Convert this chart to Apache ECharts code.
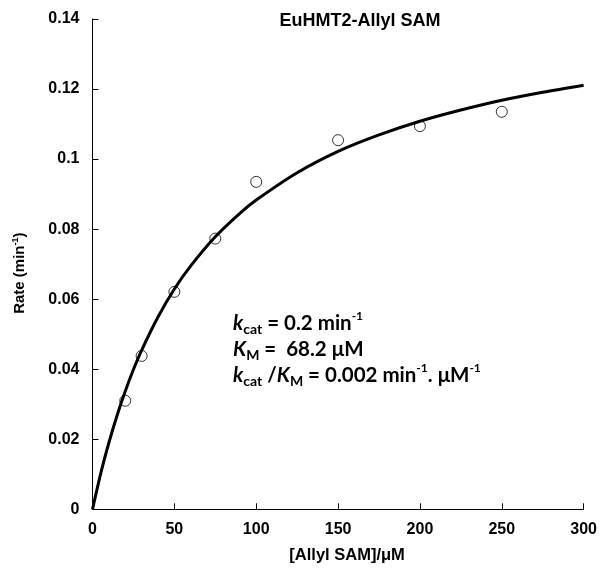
<!DOCTYPE html>
<html>
<head>
<meta charset="utf-8">
<script src="https://cdn.jsdelivr.net/npm/echarts@6/dist/echarts.min.js"></script>
<style>html,body{margin:0;padding:0;background:#fff}#c{width:600px;height:573px}</style>
</head>
<body>
<div id="c"></div>
<script>
// Measured data points
const substrate = [20, 30, 50, 75, 100, 150, 200, 250];
const rates = [0.0310, 0.0438, 0.0621, 0.0773, 0.0935, 0.1054, 0.1094, 0.1135];
// Fitted curve
const curveX = [0, 5, 10, 15, 20, 25, 30, 40, 50, 60, 75, 90, 100, 125, 150, 175, 200, 225, 250, 275, 300];
const curveY = [0, 0.0102, 0.0190, 0.0268, 0.0337, 0.0399, 0.0454, 0.0549, 0.0629, 0.0695, 0.0778, 0.0845, 0.0883, 0.0961, 0.1022, 0.1069, 0.1108, 0.1140, 0.1168, 0.1191, 0.1211];
const xTicks = [0, 50, 100, 150, 200, 250, 300];
const yTicks = [0, 0.02, 0.04, 0.06, 0.08, 0.1, 0.12, 0.14];

const AR = "'Liberation Sans', Arial, sans-serif";
const CAL = "Lato, 'Open Sans', sans-serif";

const chart = echarts.init(document.getElementById('c'), null, {renderer: 'canvas'});

const mainSt = {fontFamily: CAL, fontWeight: 'bold', fontSize: 20.5, color: '#000', lineHeight: 26};
const rich = {
  k: Object.assign({}, mainSt, {fontStyle: 'italic'}),
  t: mainSt,
  sub: {fontFamily: CAL, fontWeight: 'bold', fontSize: 14, color: '#000', lineHeight: 14, verticalAlign: 'bottom'},
  sup: {fontFamily: CAL, fontWeight: 'bold', fontSize: 12, color: '#000', lineHeight: 12, verticalAlign: 'top'}
};

chart.setOption({
  animation: false,
  title: {
    text: 'EuHMT2-Allyl SAM',
    left: 355, top: 7, textAlign: 'center',
    textStyle: {fontFamily: AR, fontWeight: 'bold', fontSize: 18, color: '#000'}
  },
  grid: {left: 92.5, right: 16, top: 19, bottom: 63.7, containLabel: false},
  xAxis: {
    type: 'value', min: 0, max: 300, interval: 50,
    name: '[Allyl SAM]/μM', nameLocation: 'middle', nameGap: 37,
    nameTextStyle: {fontFamily: AR, fontWeight: 'bold', fontSize: 16.5, color: '#000', lineHeight: 18, padding: [0, 0, 0, 18]},
    axisLine: {lineStyle: {color: '#000', width: 1}},
    axisTick: {inside: true, length: 6, lineStyle: {color: '#000'}},
    axisLabel: {fontFamily: AR, fontWeight: 'bold', fontSize: 16, color: '#000', margin: 12},
    splitLine: {show: false}
  },
  yAxis: {
    type: 'value', min: 0, max: 0.14, interval: 0.02,
    name: '{a|Rate (min}{s|-1}{a|)}', nameLocation: 'middle', nameGap: 65,
    nameTextStyle: {
      padding: [0, 18, 0, 0],
      rich: {
        a: {fontFamily: AR, fontWeight: 'bold', fontSize: 15, color: '#000', lineHeight: 16},
        s: {fontFamily: AR, fontWeight: 'bold', fontSize: 9, color: '#000', lineHeight: 9, verticalAlign: 'top'}
      }
    },
    axisLine: {show: true, lineStyle: {color: '#000', width: 1}},
    axisTick: {show: true, inside: true, length: 6, lineStyle: {color: '#000'}},
    axisLabel: {
      fontFamily: AR, fontWeight: 'bold', fontSize: 16, color: '#000', margin: 13,
      formatter: v => String(+v.toFixed(2))
    },
    splitLine: {show: false}
  },
  series: [
    {
      type: 'line',
      data: curveX.map((x, i) => [x, curveY[i]]),
      smooth: 0.3, showSymbol: false, symbol: 'none',
      lineStyle: {color: '#000', width: 3},
      z: 2
    },
    {
      type: 'scatter',
      data: substrate.map((x, i) => [x, rates[i]]),
      symbol: 'circle', symbolSize: 11,
      itemStyle: {color: 'rgba(255,255,255,0)', borderColor: '#000', borderWidth: 1},
      z: 3
    }
  ],
  graphic: [
    {type: 'text', x: 233, y: 323, style: {text: '{k|k}{sub|cat}{t| = 0.2 min}{sup|-1}', rich: rich, verticalAlign: 'middle'}},
    {type: 'text', x: 233, y: 349, style: {text: '{k|K}{sub|M}{t| =  68.2 μM}', rich: rich, verticalAlign: 'middle'}},
    {type: 'text', x: 233, y: 375, style: {text: '{k|k}{sub|cat}{t| /}{k|K}{sub|M}{t| = 0.002 min}{sup|-1}{t|. μM}{sup|-1}', rich: rich, verticalAlign: 'middle'}}
  ]
});
</script>
</body>
</html>
